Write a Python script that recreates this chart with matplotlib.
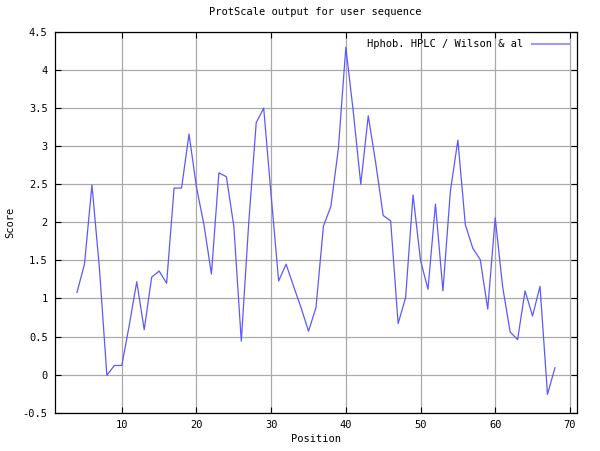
import matplotlib.pyplot as plt

# ProtScale profile, window centre positions 4..68
positions = list(range(4, 69))
scores = [
    1.08, 1.45, 2.49, 1.40, -0.01, 0.12, 0.12, 0.65, 1.22, 0.59,
    1.28, 1.36, 1.20, 2.45, 2.45, 3.16, 2.46, 1.97, 1.32, 2.65,
    2.60, 1.95, 0.44, 2.00, 3.31, 3.50, 2.35, 1.23, 1.45, 1.16,
    0.88, 0.57, 0.88, 1.95, 2.21, 2.97, 4.30, 3.45, 2.50, 3.40,
    2.78, 2.09, 2.02, 0.67, 1.01, 2.36, 1.50, 1.12, 2.24, 1.10,
    2.41, 3.08, 1.97, 1.66, 1.51, 0.86, 2.06, 1.15, 0.56, 0.46,
    1.10, 0.77, 1.16, -0.26, 0.09,
]
series_label = 'Hphob. HPLC / Wilson & al'
x_ticks = [10, 20, 30, 40, 50, 60, 70]
y_ticks = [-0.5, 0, 0.5, 1, 1.5, 2, 2.5, 3, 3.5, 4, 4.5]

plt.rcParams['font.family'] = ['DejaVu Sans Mono']
fs = 7.5

fig = plt.figure(figsize=(6, 4.51), dpi=100)
ax = fig.add_axes([0.091, 0.085, 0.870, 0.844])

ax.plot(positions, scores, color='#5a5aff', lw=0.9, label=series_label)

ax.set_xlim(1, 70.9)
ax.set_ylim(-0.5, 4.5)
ax.set_xticks(x_ticks)
ax.set_yticks(y_ticks)
ax.set_yticklabels(['%g' % v for v in y_ticks])
ax.tick_params(direction='in', length=4, width=0.8, labelsize=fs,
               top=True, right=True, colors='black', pad=5)
ax.grid(True, color='#aaaaaa', lw=0.9)
for s in ax.spines.values():
    s.set_linewidth(0.9)

ax.set_title('ProtScale output for user sequence', fontsize=fs, pad=12)
ax.set_xlabel('Position', fontsize=fs, labelpad=3)
ax.set_ylabel('Score', fontsize=fs, labelpad=5)

leg = ax.legend(loc='upper right', frameon=False, fontsize=fs,
                markerfirst=False, handlelength=3.6, borderaxespad=0.3,
                handletextpad=0.8)
leg.get_lines()[0].set_linewidth(1.5)
leg.get_lines()[0].set_color('#9a9aff')

fig.savefig('out.png', dpi=100)
plt.close(fig)
